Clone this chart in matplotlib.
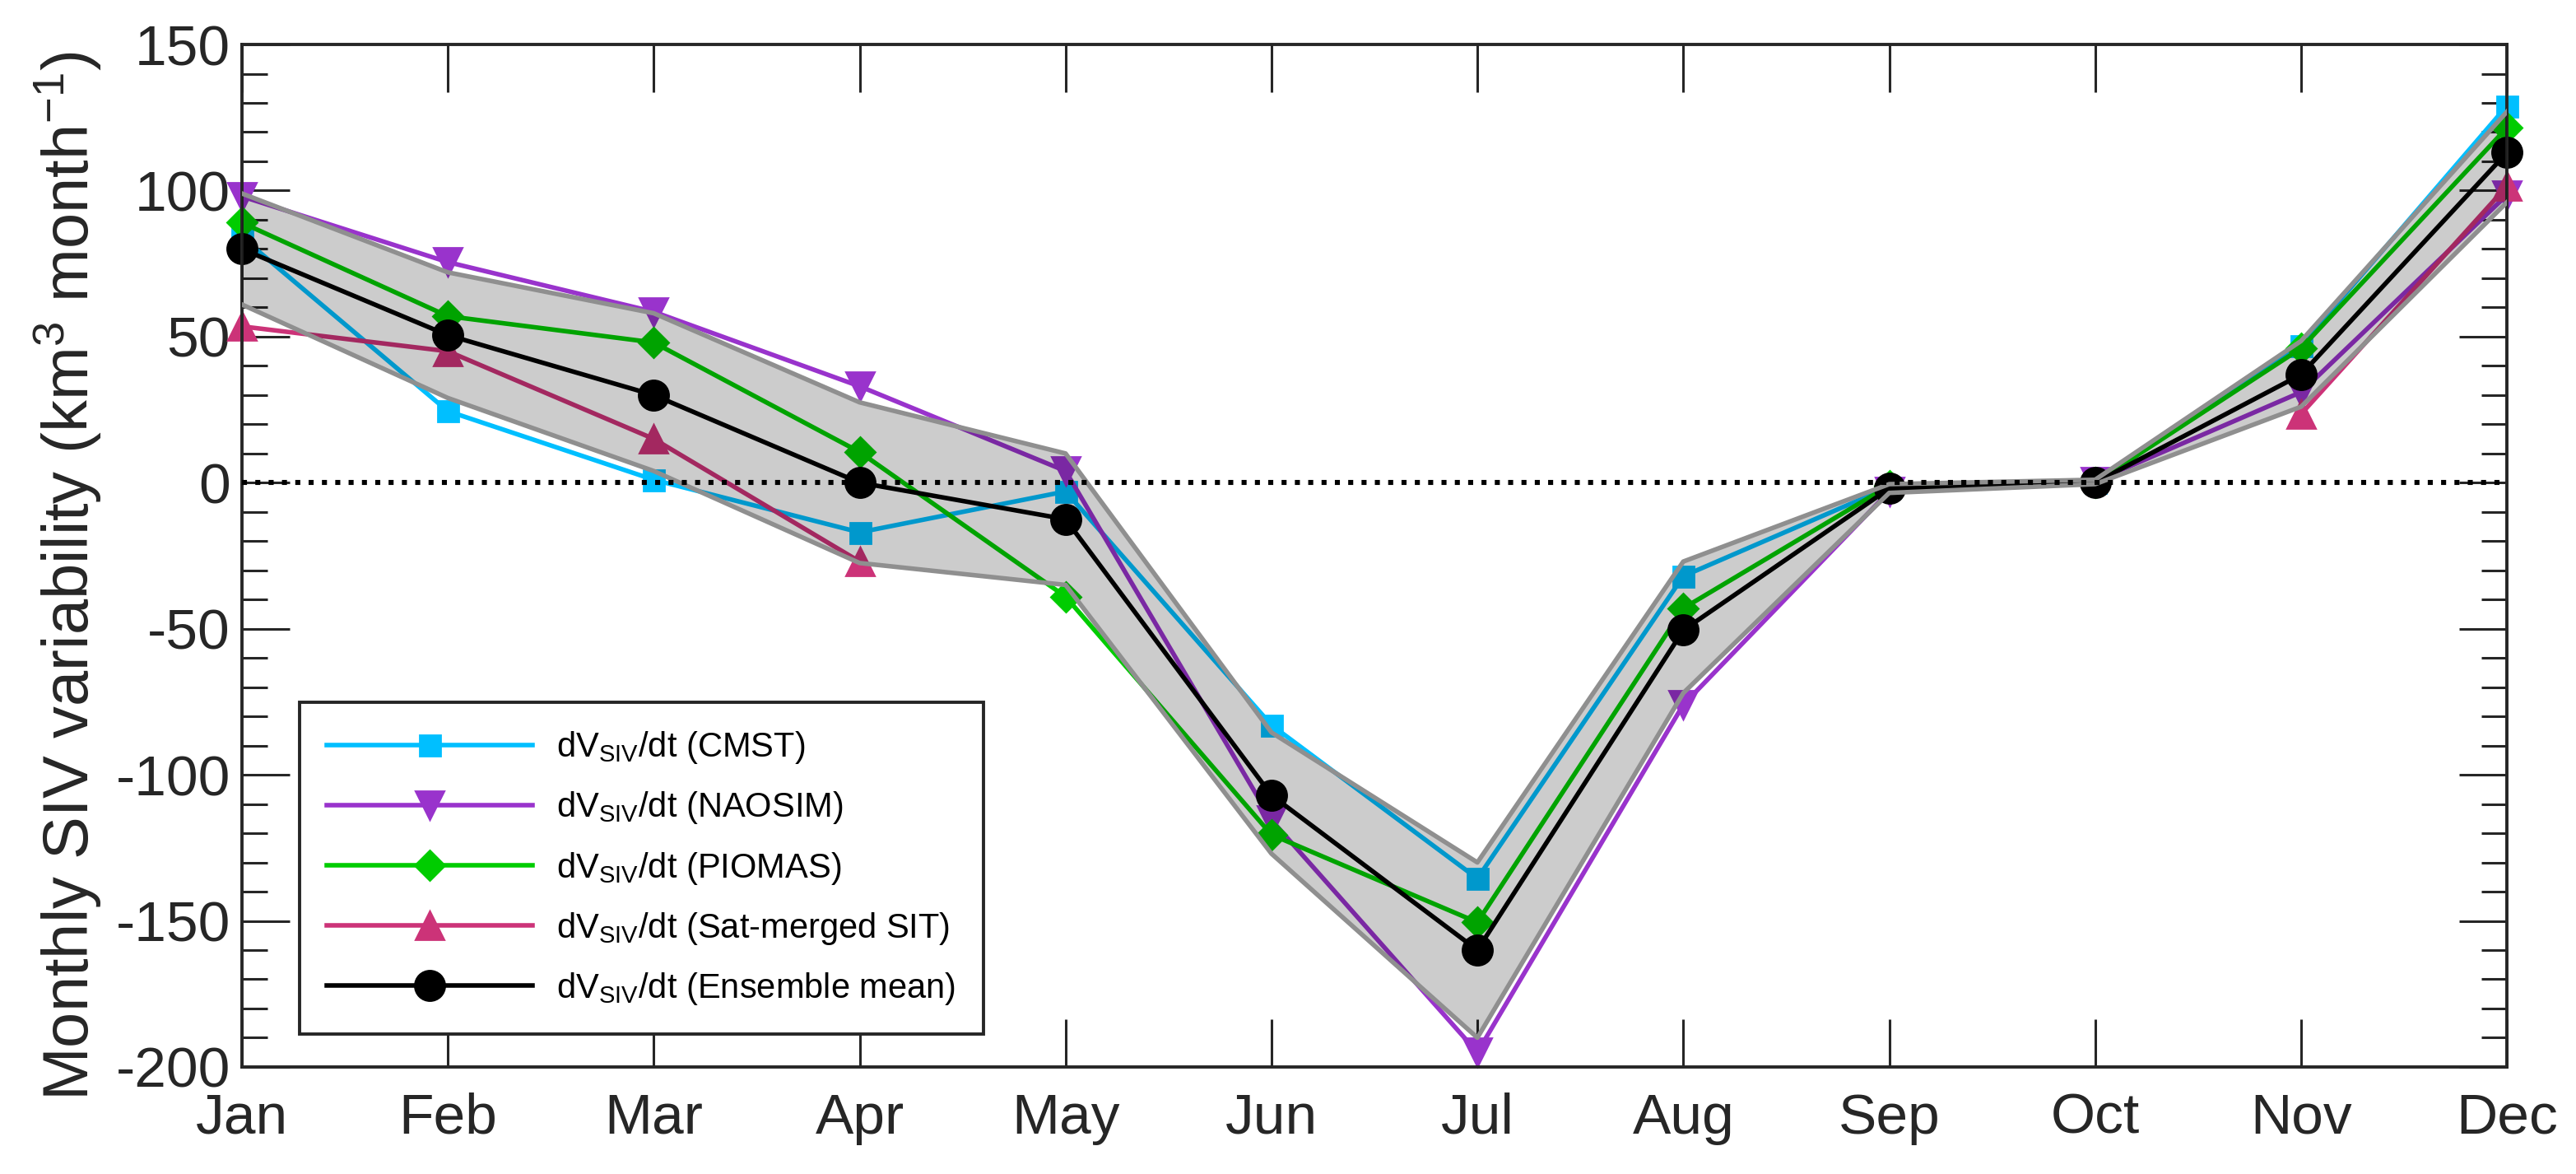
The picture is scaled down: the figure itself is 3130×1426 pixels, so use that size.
import numpy as np
import matplotlib
matplotlib.use("Agg")
import matplotlib.pyplot as plt

plt.rcParams['font.family'] = ['Liberation Sans', 'DejaVu Sans']
plt.rcParams['mathtext.fontset'] = 'custom'
plt.rcParams['mathtext.rm'] = 'Liberation Sans'
plt.rcParams['mathtext.it'] = 'Liberation Sans:italic'
plt.rcParams['mathtext.default'] = 'regular'
plt.rcParams['axes.unicode_minus'] = False

# monthly dV/dt values (km3 / month)
months = ["Jan", "Feb", "Mar", "Apr", "May", "Jun", "Jul", "Aug", "Sep", "Oct", "Nov", "Dec"]
cmst = [84, 24.5, 1, -17, -3, -83, -135.5, -32, -1.5, 0, 47, 129]
naosim = [98, 75.5, 58.5, 33, 4, -115.5, -195, -76, -3, 0.5, 31, 98.5]
piomas = [89, 57, 48, 10.5, -39, -120.5, -150.5, -43, -1, 0, 46, 121.5]
satsit = [53.5, 45, 15, -27, np.nan, np.nan, np.nan, np.nan, np.nan, np.nan, 23.5, 101.5]
ens_mean = [80, 50.5, 30, 0, -12.5, -107, -160, -50.5, -2, 0, 37, 113]
band_hi = [99, 72, 58, 27.5, 10, -85.5, -130, -27, -0.5, 1, 48.5, 127]
band_lo = [61, 29, 4, -27.5, -35, -127, -190, -72, -3.5, -0.5, 26, 96]

x = np.arange(1, 13)
axcol = '#262626'

fig = plt.figure(figsize=(15.65, 7.13), dpi=200)
ax = fig.add_axes([0.0939, 0.0912, 0.8793, 0.8709])

series = [
    (cmst, '#00BFFF', 's', 9, 'CMST'),
    (naosim, '#9933CC', 'v', 12, 'NAOSIM'),
    (piomas, '#00CC00', 'D', 9, 'PIOMAS'),
    (satsit, '#CC3378', '^', 12, 'Sat-merged SIT'),
    (ens_mean, 'black', 'o', 13, 'Ensemble mean'),
]
for vals, col, mk, ms, name in series:
    ax.plot(x, vals, color=col, marker=mk, markersize=ms, lw=2,
            label=r'dV$_{SIV}$/dt (' + name + ')', clip_on=False, zorder=2)

# shaded spread, drawn over the lines
ax.fill_between(x, band_lo, band_hi, facecolor='black', alpha=0.2, lw=0, zorder=3)
ax.plot(x, band_hi, color='#8f8f8f', lw=2, zorder=4)
ax.plot(x, band_lo, color='#8f8f8f', lw=2, zorder=4)

ax.axhline(0, color='black', ls=':', lw=2.2, zorder=5)

ax.set_xlim(1, 12)
ax.set_ylim(-200, 150)
ax.set_xticks(x)
ax.set_xticklabels(months)
ax.set_yticks(np.arange(-200, 151, 50))
ax.set_yticks(np.arange(-200, 151, 10), minor=True)
ax.tick_params(axis='both', which='major', direction='in', length=21, width=1.1,
               color=axcol, labelcolor=axcol, labelsize=25, top=True, right=True)
ax.tick_params(axis='y', which='minor', direction='in', length=11, width=1.1,
               color=axcol, left=True, right=True)
ax.tick_params(axis='y', which='major', pad=5)
ax.tick_params(axis='x', which='major', pad=11)
for sp in ax.spines.values():
    sp.set_color(axcol)
    sp.set_linewidth(1.4)

ax.set_ylabel(r'Monthly SIV variability (km$^3$ month$^{-1}$)', fontsize=28, color=axcol)
ax.yaxis.set_label_coords(-0.061, 0.48)

leg = ax.legend(loc='lower left', bbox_to_anchor=(0.0254, 0.032), borderaxespad=0,
                fontsize=15, handlelength=6.0, handletextpad=0.7, borderpad=0.8,
                labelspacing=0.7, fancybox=False, framealpha=1, edgecolor=axcol)
leg.get_frame().set_linewidth(1.4)
leg.set_zorder(10)

fig.savefig("out.png", dpi=200)
